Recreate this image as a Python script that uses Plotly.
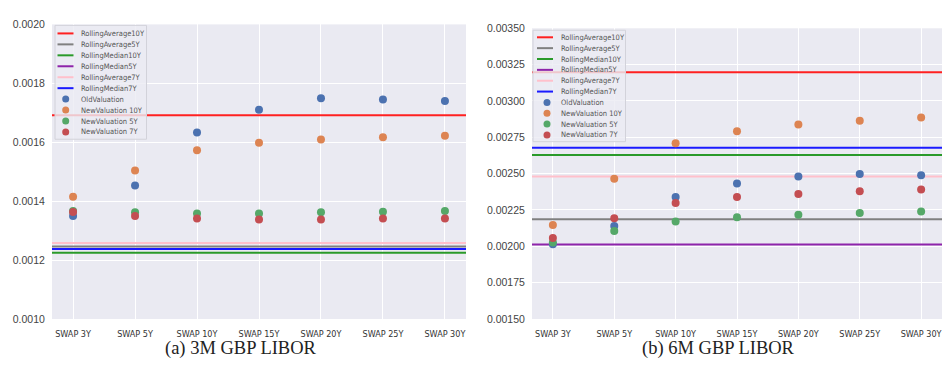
import plotly.graph_objects as go

categories = ["SWAP 3Y", "SWAP 5Y", "SWAP 10Y", "SWAP 15Y", "SWAP 20Y", "SWAP 25Y", "SWAP 30Y"]

# 3M GBP LIBOR
old_3m = [0.001350, 0.001453, 0.001633, 0.001710, 0.001749, 0.001745, 0.001740]
new10_3m = [0.001415, 0.001504, 0.001573, 0.001598, 0.001609, 0.001617, 0.001622]
new5_3m = [0.001367, 0.001362, 0.001358, 0.001358, 0.001362, 0.001364, 0.001367]
new7_3m = [0.001363, 0.001350, 0.001341, 0.001338, 0.001338, 0.001341, 0.001341]

# 6M GBP LIBOR
old_6m = [0.002015, 0.002140, 0.002340, 0.002433, 0.002480, 0.002498, 0.002489]
new10_6m = [0.002147, 0.002464, 0.002709, 0.002791, 0.002838, 0.002864, 0.002887]
new5_6m = [0.002027, 0.002105, 0.002171, 0.002200, 0.002218, 0.002229, 0.002240]
new7_6m = [0.002058, 0.002193, 0.002298, 0.002340, 0.002360, 0.002378, 0.002391]

rolling_names = ["RollingAverage10Y", "RollingAverage5Y", "RollingMedian10Y",
                 "RollingMedian5Y", "RollingAverage7Y", "RollingMedian7Y"]
rolling_3m = [0.001692, 0.001246, 0.001225, 0.001238, 0.001258, 0.001238]
rolling_6m = [0.003198, 0.002187, 0.002629, 0.002013, 0.002480, 0.002678]
rolling_colors = ["#ff2020", "#808080", "#2a9a2a", "#8e24aa", "#ffc0cb", "#1a1aff"]

point_names = ["OldValuation", "NewValuation 10Y", "NewValuation 5Y", "NewValuation 7Y"]
point_colors = ["#4C72B0", "#DD8452", "#55A868", "#C44E52"]

y_ticks_3m = [0.0010, 0.0012, 0.0014, 0.0016, 0.0018, 0.0020]
y_ticks_6m = [0.00150, 0.00175, 0.00200, 0.00225, 0.00250, 0.00275, 0.00300, 0.00325, 0.00350]

captions = ["(a) 3M GBP LIBOR", "(b) 6M GBP LIBOR"]

W, H = 948, 387


def px(x):
    return x / W


def py(y):
    return 1 - y / H


xs = list(range(len(categories)))
x_range = [-0.34, len(categories) - 1 + 0.34]

fig = go.Figure()

panels = [
    ("x", "y", rolling_3m, [old_3m, new10_3m, new5_3m, new7_3m]),
    ("x2", "y2", rolling_6m, [old_6m, new10_6m, new5_6m, new7_6m]),
]

for xa, ya, rolling, pts in panels:
    for name, val, col in zip(rolling_names, rolling, rolling_colors):
        fig.add_trace(go.Scatter(x=x_range, y=[val, val], mode="lines", name=name,
                                 line=dict(color=col, width=2), xaxis=xa, yaxis=ya,
                                 showlegend=False, hoverinfo="skip"))
    for name, vals, col in zip(point_names, pts, point_colors):
        fig.add_trace(go.Scatter(x=xs, y=vals, mode="markers", name=name,
                                 marker=dict(color=col, size=8, line=dict(width=0)),
                                 xaxis=xa, yaxis=ya, showlegend=False))

# custom compact legends (matplotlib-like)
legend_font = dict(family="Liberation Sans Narrow, DejaVu Sans Condensed, sans-serif",
                   size=7.5, color="#555")
legend_boxes = [
    dict(x0=55, x1=146.5, y0=20, y1=137.5, first=28.3, step=11.3, line_x=(57.5, 73.5),
         mark_x=65.7, text_x=79),
    dict(x0=533, x1=625.5, y0=25, y1=140, first=32.3, step=11.2, line_x=(537, 553),
         mark_x=547, text_x=559),
]
for box in legend_boxes:
    fig.add_shape(type="rect", xref="paper", yref="paper",
                  x0=px(box["x0"]), x1=px(box["x1"]), y0=py(box["y1"]), y1=py(box["y0"]),
                  fillcolor="rgba(236,236,243,0.82)", line=dict(color="#d2d2da", width=1))
    entries = [(n, c, "line") for n, c in zip(rolling_names, rolling_colors)] + \
              [(n, c, "marker") for n, c in zip(point_names, point_colors)]
    for i, (name, col, kind) in enumerate(entries):
        yc = box["first"] + i * box["step"]
        if kind == "line":
            fig.add_shape(type="line", xref="paper", yref="paper",
                          x0=px(box["line_x"][0]), x1=px(box["line_x"][1]),
                          y0=py(yc), y1=py(yc), line=dict(color=col, width=2))
        else:
            fig.add_shape(type="circle", xref="paper", yref="paper",
                          xsizemode="pixel", ysizemode="pixel",
                          xanchor=px(box["mark_x"]), yanchor=py(yc),
                          x0=-3.5, x1=3.5, y0=-3.5, y1=3.5,
                          fillcolor=col, line=dict(width=0))
        fig.add_annotation(text=name, xref="paper", yref="paper", x=px(box["text_x"]),
                           y=py(yc), xanchor="left", yanchor="middle", showarrow=False,
                           font=legend_font)

tickfont_x = dict(family="Liberation Sans Narrow, DejaVu Sans Condensed, Arial Narrow, sans-serif",
                  size=9, color="#333")
tickfont_y = dict(family="Liberation Sans, Arial, sans-serif", size=10.5, color="#444")

common_x = dict(range=x_range, tickvals=xs, ticktext=categories, showgrid=True,
                gridcolor="white", gridwidth=1.2, zeroline=False, showline=False,
                ticks="outside", ticklen=6, tickcolor="rgba(0,0,0,0)", tickfont=tickfont_x)
common_y = dict(showgrid=True, gridcolor="white", gridwidth=1.2, zeroline=False,
                showline=False, ticks="outside", ticklen=4, tickcolor="rgba(0,0,0,0)",
                tickfont=tickfont_y)

fig.update_layout(
    width=W, height=H,
    margin=dict(l=0, r=0, t=0, b=0),
    paper_bgcolor="white",
    plot_bgcolor="#EAEAF2",
    xaxis=dict(common_x, domain=[px(52), px(466)], anchor="y"),
    yaxis=dict(common_y, domain=[py(323), py(19)], anchor="x", range=[0.0010, 0.0020],
               tickvals=y_ticks_3m, tickformat=".4f"),
    xaxis2=dict(common_x, domain=[px(532), px(942)], anchor="y2"),
    yaxis2=dict(common_y, domain=[py(323), py(23)], anchor="x2", range=[0.0015, 0.0035],
                tickvals=y_ticks_6m, tickformat=".5f"),
    showlegend=False,
)

for cap, xc in zip(captions, [241, 718]):
    fig.add_annotation(text=cap, xref="paper", yref="paper", x=px(xc), y=py(353),
                       showarrow=False, xanchor="center", yanchor="middle",
                       font=dict(family="Liberation Serif, DejaVu Serif, serif", size=18.5,
                                 color="#222"))

fig.write_html("out.html", config={"displayModeBar": False},
               post_script="document.body.style.margin='0';")
